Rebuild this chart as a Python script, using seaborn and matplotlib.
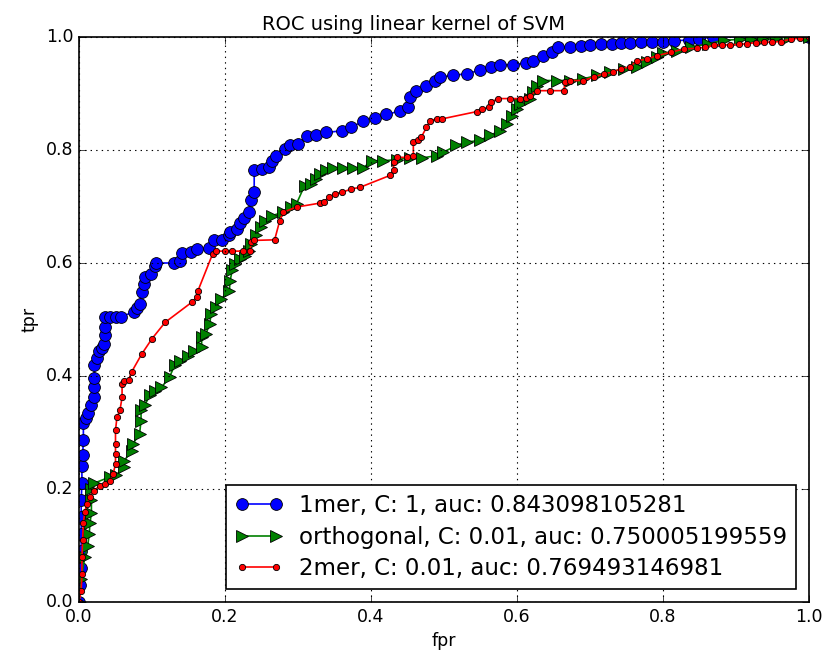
import matplotlib
matplotlib.use("Agg")
import matplotlib.pyplot as plt
import seaborn as sns
import pandas as pd

# ---- data ----
fpr_1mer = [0.0, 0.002, 0.003, 0.003, 0.003, 0.003, 0.003, 0.004, 0.004, 0.005, 0.006, 0.006, 0.01, 0.013,
            0.017, 0.02, 0.021, 0.021, 0.021, 0.024, 0.027, 0.031, 0.034, 0.036, 0.036, 0.036, 0.043, 0.05,
            0.057, 0.075, 0.08, 0.084, 0.086, 0.089, 0.091, 0.098, 0.104, 0.106, 0.13, 0.139, 0.141, 0.154,
            0.161, 0.178, 0.185, 0.196, 0.205, 0.207, 0.216, 0.221, 0.226, 0.233, 0.235, 0.24, 0.24, 0.25,
            0.26, 0.264, 0.27, 0.282, 0.289, 0.3, 0.312, 0.325, 0.339, 0.36, 0.373, 0.389, 0.405, 0.421,
            0.44, 0.451, 0.453, 0.462, 0.476, 0.488, 0.494, 0.512, 0.531, 0.549, 0.565, 0.577, 0.595, 0.613,
            0.622, 0.636, 0.648, 0.656, 0.673, 0.687, 0.7, 0.715, 0.73, 0.742, 0.755, 0.77, 0.785, 0.8,
            0.815, 0.835, 0.85, 0.869, 1.0]
tpr_1mer = [0.0, 0.03, 0.06, 0.09, 0.12, 0.15, 0.18, 0.21, 0.24, 0.26, 0.286, 0.316, 0.325, 0.334,
            0.348, 0.362, 0.38, 0.397, 0.42, 0.432, 0.445, 0.45, 0.457, 0.472, 0.486, 0.505, 0.505, 0.505,
            0.505, 0.513, 0.52, 0.528, 0.548, 0.562, 0.575, 0.581, 0.594, 0.6, 0.6, 0.604, 0.617, 0.619,
            0.624, 0.627, 0.64, 0.64, 0.649, 0.655, 0.661, 0.67, 0.679, 0.69, 0.711, 0.725, 0.764, 0.767,
            0.77, 0.781, 0.79, 0.802, 0.808, 0.81, 0.824, 0.826, 0.831, 0.834, 0.84, 0.851, 0.857, 0.863,
            0.869, 0.876, 0.893, 0.905, 0.914, 0.923, 0.929, 0.932, 0.935, 0.941, 0.947, 0.951, 0.951, 0.954,
            0.958, 0.966, 0.973, 0.982, 0.983, 0.984, 0.985, 0.987, 0.988, 0.989, 0.99, 0.991, 0.991, 0.992,
            0.993, 0.995, 0.997, 1.0, 1.0]

fpr_orth = [0.0, 0.003, 0.008, 0.012, 0.014, 0.015, 0.017, 0.017, 0.017, 0.02, 0.042, 0.051, 0.062, 0.062,
            0.072, 0.074, 0.083, 0.085, 0.085, 0.09, 0.097, 0.104, 0.113, 0.124, 0.131, 0.138, 0.149, 0.158,
            0.168, 0.168, 0.174, 0.179, 0.181, 0.188, 0.195, 0.206, 0.207, 0.21, 0.214, 0.221, 0.228, 0.233,
            0.236, 0.242, 0.249, 0.255, 0.265, 0.28, 0.291, 0.298, 0.309, 0.318, 0.325, 0.33, 0.339, 0.348,
            0.362, 0.376, 0.389, 0.401, 0.417, 0.435, 0.453, 0.47, 0.49, 0.499, 0.517, 0.531, 0.549, 0.563,
            0.577, 0.586, 0.593, 0.6, 0.604, 0.618, 0.622, 0.627, 0.636, 0.655, 0.673, 0.691, 0.709, 0.728,
            0.746, 0.764, 0.778, 0.792, 0.8, 0.819, 0.838, 0.861, 0.883, 0.906, 0.92, 0.937, 0.955, 0.974, 1.0]
tpr_orth = [0.0, 0.04, 0.08, 0.1, 0.12, 0.14, 0.157, 0.18, 0.2, 0.21, 0.221, 0.224, 0.239, 0.25,
            0.268, 0.28, 0.298, 0.321, 0.339, 0.348, 0.366, 0.374, 0.38, 0.398, 0.419, 0.427, 0.436, 0.445,
            0.451, 0.469, 0.475, 0.492, 0.51, 0.522, 0.537, 0.551, 0.569, 0.587, 0.599, 0.607, 0.613, 0.622,
            0.634, 0.649, 0.663, 0.675, 0.684, 0.69, 0.699, 0.705, 0.737, 0.74, 0.749, 0.758, 0.764, 0.768,
            0.768, 0.768, 0.768, 0.781, 0.781, 0.783, 0.786, 0.786, 0.79, 0.796, 0.808, 0.814, 0.817, 0.826,
            0.834, 0.846, 0.861, 0.873, 0.882, 0.891, 0.902, 0.914, 0.923, 0.923, 0.923, 0.926, 0.932, 0.938,
            0.944, 0.947, 0.955, 0.964, 0.971, 0.976, 0.982, 0.988, 0.994, 0.996, 0.997, 0.997, 0.998, 1.0, 1.0]

fpr_2mer = [0.0, 0.003, 0.004, 0.004, 0.005, 0.006, 0.008, 0.011, 0.015, 0.02, 0.029, 0.036, 0.043, 0.047,
            0.05, 0.05, 0.05, 0.05, 0.052, 0.056, 0.059, 0.059, 0.061, 0.068, 0.072, 0.086, 0.1, 0.118,
            0.155, 0.161, 0.163, 0.183, 0.188, 0.2, 0.21, 0.225, 0.234, 0.236, 0.24, 0.268, 0.275, 0.28,
            0.298, 0.33, 0.335, 0.342, 0.351, 0.36, 0.373, 0.385, 0.426, 0.431, 0.431, 0.435, 0.449, 0.458,
            0.458, 0.465, 0.469, 0.476, 0.481, 0.49, 0.497, 0.545, 0.552, 0.561, 0.565, 0.574, 0.59, 0.604,
            0.613, 0.618, 0.627, 0.645, 0.664, 0.666, 0.673, 0.691, 0.705, 0.719, 0.732, 0.742, 0.755, 0.764,
            0.778, 0.792, 0.811, 0.829, 0.847, 0.858, 0.87, 0.881, 0.892, 0.904, 0.915, 0.927, 0.938, 0.95,
            0.961, 0.975, 0.988, 1.0]
tpr_2mer = [0.0, 0.02, 0.05, 0.08, 0.11, 0.14, 0.16, 0.174, 0.186, 0.197, 0.206, 0.209, 0.215, 0.227,
            0.245, 0.262, 0.28, 0.304, 0.327, 0.339, 0.362, 0.386, 0.392, 0.393, 0.407, 0.439, 0.466, 0.495,
            0.531, 0.539, 0.551, 0.616, 0.621, 0.621, 0.621, 0.621, 0.622, 0.637, 0.64, 0.641, 0.675, 0.69,
            0.699, 0.706, 0.708, 0.716, 0.723, 0.725, 0.731, 0.734, 0.755, 0.764, 0.778, 0.787, 0.787, 0.79,
            0.814, 0.817, 0.823, 0.84, 0.852, 0.855, 0.855, 0.868, 0.872, 0.876, 0.885, 0.891, 0.891, 0.891,
            0.892, 0.896, 0.905, 0.905, 0.905, 0.92, 0.923, 0.923, 0.929, 0.935, 0.938, 0.944, 0.947, 0.958,
            0.961, 0.967, 0.973, 0.979, 0.98, 0.982, 0.985, 0.986, 0.986, 0.987, 0.988, 0.99, 0.991, 0.991,
            0.992, 0.996, 0.998, 1.0]

labels = ["1mer, C: 1, auc: 0.843098105281",
          "orthogonal, C: 0.01, auc: 0.750005199559",
          "2mer, C: 0.01, auc: 0.769493146981"]
ticks = [0.0, 0.2, 0.4, 0.6, 0.8, 1.0]

# ---- style ----
sns.set_style("ticks")
plt.style.use("classic")
plt.rcParams.update({
    "figure.facecolor": "white",
    "savefig.facecolor": "white",
    "font.family": ["DejaVu Sans"],
    "xtick.direction": "in",
    "ytick.direction": "in",
    "xtick.top": True,
    "ytick.right": True,
})

fig = plt.figure(figsize=(8.27, 6.61), dpi=100)
ax = fig.add_axes([79 / 827, 1 - 602 / 661, 730 / 827, 565 / 661])

series = [
    (fpr_1mer, tpr_1mer, "blue", "o", 8.5),
    (fpr_orth, tpr_orth, "green", ">", 9),
    (fpr_2mer, tpr_2mer, "red", ".", 9),
]
for (fx, ty, col, mk, ms), lab in zip(series, labels):
    df = pd.DataFrame({"fpr": fx, "tpr": ty})
    sns.lineplot(data=df, x="fpr", y="tpr", sort=False, estimator=None, ax=ax,
                 color=col, marker=mk, markersize=ms, markeredgecolor="black",
                 markeredgewidth=0.6, linewidth=1.2, label=lab)

ax.set_xlim(0, 1)
ax.set_ylim(0, 1)
ax.set_xticks(ticks)
ax.set_yticks(ticks)
ax.set_xticklabels([f"{t:.1f}" for t in ticks])
ax.set_yticklabels([f"{t:.1f}" for t in ticks])
ax.tick_params(labelsize=12.5, direction="in", top=True, right=True, length=5)
ax.grid(True, linestyle=":", color="black", linewidth=0.8)
ax.set_xlabel("fpr", fontsize=12.5)
ax.set_ylabel("tpr", fontsize=12.5)
ax.set_title("ROC using linear kernel of SVM", fontsize=14, x=(413.5 - 79) / 730)
for s in ax.spines.values():
    s.set_linewidth(1.2)
    s.set_color("black")

leg = ax.legend(loc="lower right", numpoints=2, fontsize=16.5, fancybox=False,
                framealpha=1, edgecolor="black", borderaxespad=0.55,
                labelspacing=0.38, handlelength=2.1, handletextpad=0.7,
                borderpad=0.4)
leg.get_frame().set_linewidth(1.2)

fig.savefig("out.png", dpi=100)
